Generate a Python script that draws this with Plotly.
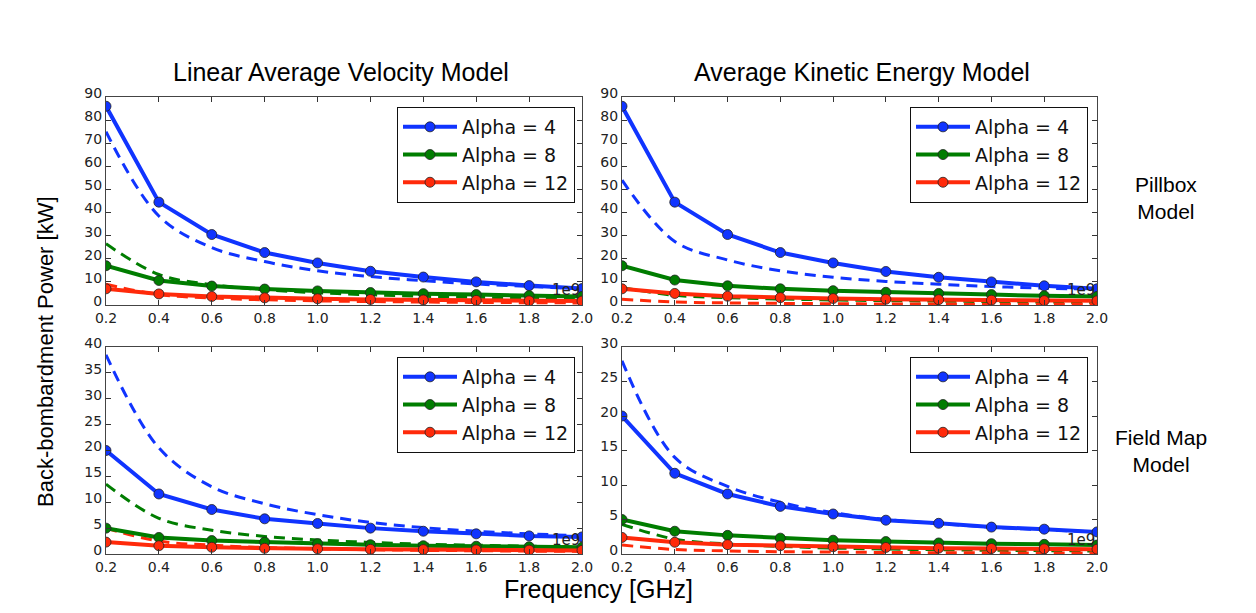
import plotly.graph_objects as go

# ---------------- data ----------------
freq_ghz = [0.2, 0.4, 0.6, 0.8, 1.0, 1.2, 1.4, 1.6, 1.8, 2.0]
x_tick_labels = ["0.2", "0.4", "0.6", "0.8", "1.0", "1.2", "1.4", "1.6", "1.8", "2.0"]
alpha_labels = ["Alpha = 4", "Alpha = 8", "Alpha = 12"]

# Linear Average Velocity Model, Pillbox
lav_pill_a4 = [86, 44.5, 30.5, 22.7, 18.2, 14.6, 12.1, 10.0, 8.4, 7.1]
lav_pill_a8 = [17, 10.6, 8.2, 6.9, 6.1, 5.4, 4.9, 4.5, 4.1, 3.7]
lav_pill_a12 = [7.0, 4.8, 3.7, 3.1, 2.7, 2.4, 2.2, 2.0, 1.8, 1.7]
lav_pill_a4_dash = [75, 38.5, 24.8, 18.8, 14.8, 12.3, 10.5, 9.1, 8.0, 7.1]
lav_pill_a8_dash = [26.5, 13.2, 8.8, 6.6, 5.3, 4.4, 3.8, 3.3, 2.9, 2.65]
lav_pill_a12_dash = [9.0, 4.5, 3.0, 2.25, 1.8, 1.5, 1.3, 1.1, 1.0, 0.9]

# Average Kinetic Energy Model, Pillbox
ake_pill_a4 = [86, 44.5, 30.5, 22.7, 18.2, 14.5, 12.0, 10.0, 8.3, 7.0]
ake_pill_a8 = [17, 10.8, 8.3, 7.0, 6.2, 5.5, 5.0, 4.5, 4.0, 3.7]
ake_pill_a12 = [7.0, 5.0, 3.8, 3.2, 2.8, 2.5, 2.3, 2.1, 1.9, 1.8]
ake_pill_a4_dash = [54, 27.5, 19.5, 14.8, 12.0, 10.2, 9.0, 8.0, 7.3, 6.8]
ake_pill_a8_dash = [7.5, 4.2, 3.2, 2.6, 2.2, 1.9, 1.7, 1.5, 1.3, 1.2]
ake_pill_a12_dash = [2.5, 1.3, 0.9, 0.7, 0.55, 0.45, 0.4, 0.35, 0.3, 0.28]

# Linear Average Velocity Model, Field Map
lav_fm_a4 = [20, 11.6, 8.6, 6.8, 5.9, 5.0, 4.4, 3.9, 3.5, 3.3]
lav_fm_a8 = [5.0, 3.2, 2.6, 2.3, 2.0, 1.8, 1.6, 1.5, 1.4, 1.3]
lav_fm_a12 = [2.3, 1.6, 1.3, 1.1, 1.0, 0.9, 0.85, 0.8, 0.75, 0.7]
lav_fm_a4_dash = [38.5, 20.5, 13.0, 9.7, 7.6, 6.1, 5.1, 4.4, 3.9, 3.5]
lav_fm_a8_dash = [13.5, 6.9, 4.6, 3.4, 2.7, 2.25, 1.9, 1.7, 1.5, 1.35]
lav_fm_a12_dash = [5.0, 2.5, 1.7, 1.25, 1.0, 0.83, 0.71, 0.63, 0.56, 0.5]

# Average Kinetic Energy Model, Field Map
ake_fm_a4 = [20, 11.7, 8.7, 6.9, 5.8, 4.9, 4.45, 3.9, 3.6, 3.2]
ake_fm_a8 = [5.0, 3.3, 2.7, 2.3, 2.0, 1.8, 1.6, 1.5, 1.4, 1.3]
ake_fm_a12 = [2.4, 1.7, 1.35, 1.2, 1.05, 0.95, 0.85, 0.8, 0.75, 0.7]
ake_fm_a4_dash = [28, 14, 9.8, 7.5, 6.0, 5.0, 4.4, 3.9, 3.5, 3.2]
ake_fm_a8_dash = [4.3, 2.15, 1.45, 1.1, 0.86, 0.72, 0.62, 0.54, 0.48, 0.43]
ake_fm_a12_dash = [1.3, 0.65, 0.45, 0.33, 0.27, 0.22, 0.19, 0.17, 0.15, 0.13]

y_ranges = [90, 90, 40, 30]
y_dticks = [10, 10, 5, 5]

# ---------------- styling ----------------
W, H = 1256, 613
colors = ["#1034ff", "#007d00", "#ff2a0a"]
tick_font = dict(family="DejaVu Sans", size=14, color="#222222")
title_font = "Liberation Sans, Arial, sans-serif"


def px_x(p):
    return p / W


def px_y(p):
    return 1 - p / H


x_domains = [[px_x(106), px_x(582)], [px_x(622), px_x(1097)],
             [px_x(106), px_x(582)], [px_x(622), px_x(1097)]]
y_domains = [[px_y(305), px_y(97)], [px_y(305), px_y(97)],
             [px_y(554), px_y(347)], [px_y(554), px_y(347)]]

panels = [
    ([lav_pill_a4, lav_pill_a8, lav_pill_a12], [lav_pill_a4_dash, lav_pill_a8_dash, lav_pill_a12_dash]),
    ([ake_pill_a4, ake_pill_a8, ake_pill_a12], [ake_pill_a4_dash, ake_pill_a8_dash, ake_pill_a12_dash]),
    ([lav_fm_a4, lav_fm_a8, lav_fm_a12], [lav_fm_a4_dash, lav_fm_a8_dash, lav_fm_a12_dash]),
    ([ake_fm_a4, ake_fm_a8, ake_fm_a12], [ake_fm_a4_dash, ake_fm_a8_dash, ake_fm_a12_dash]),
]

fig = go.Figure()
legend_names = ["legend", "legend2", "legend3", "legend4"]

for i, (solids, dashes) in enumerate(panels):
    xa = "x" if i == 0 else f"x{i+1}"
    ya = "y" if i == 0 else f"y{i+1}"
    for j in range(3):
        fig.add_trace(go.Scatter(
            x=freq_ghz, y=dashes[j], xaxis=xa, yaxis=ya, mode="lines",
            line=dict(color=colors[j], width=3, dash="11px,7px", shape="spline"),
            showlegend=False, hoverinfo="skip"))
    for j in range(3):
        fig.add_trace(go.Scatter(
            x=freq_ghz, y=solids[j], xaxis=xa, yaxis=ya, mode="lines+markers",
            name=alpha_labels[j], legend=legend_names[i],
            line=dict(color=colors[j], width=4),
            marker=dict(symbol="circle", size=10, color=colors[j],
                        line=dict(color="#222222", width=0.8))))

layout = dict(
    width=W, height=H, margin=dict(l=0, r=0, t=0, b=0),
    paper_bgcolor="white", plot_bgcolor="white",
    showlegend=True,
)

legend_pos = [(575, 107), (1088, 107), (575, 357), (1088, 357)]
for i, name in enumerate(legend_names):
    lx, ly = legend_pos[i]
    layout[name] = dict(
        x=px_x(lx), y=px_y(ly), xanchor="right", yanchor="top",
        bgcolor="white", bordercolor="#111111", borderwidth=1,
        font=dict(family="DejaVu Sans", size=19, color="#111111"),
        itemwidth=54, tracegroupgap=0)

for i in range(4):
    xk = "xaxis" if i == 0 else f"xaxis{i+1}"
    yk = "yaxis" if i == 0 else f"yaxis{i+1}"
    layout[xk] = dict(
        domain=x_domains[i], range=[0.2, 2.0], anchor="y" if i == 0 else f"y{i+1}",
        tickvals=freq_ghz, ticktext=x_tick_labels, ticks="inside", ticklen=5,
        tickcolor="#333333", showline=True, linecolor="#444444", linewidth=1,
        mirror="allticks", showgrid=False, zeroline=False, tickfont=tick_font,
        automargin=False)
    layout[yk] = dict(
        domain=y_domains[i], range=[0, y_ranges[i]], anchor="x" if i == 0 else f"x{i+1}",
        dtick=y_dticks[i], tick0=0, ticks="inside", ticklen=5,
        tickcolor="#333333", showline=True, linecolor="#444444", linewidth=1,
        mirror="allticks", showgrid=False, zeroline=False, tickfont=tick_font,
        ticklabelshift=-4, automargin=False)

fig.update_layout(**layout)

annotations = []
# offset labels
for i in range(4):
    xa = "x" if i == 0 else f"x{i+1}"
    ya = "y" if i == 0 else f"y{i+1}"
    annotations.append(dict(
        text="1e9", xref=f"{xa} domain", yref=f"{ya} domain", x=1.0, y=0.07,
        xanchor="right", yanchor="middle", showarrow=False,
        font=dict(family="DejaVu Sans", size=15, color="#222222")))

annotations += [
    dict(text="Linear Average Velocity Model", xref="paper", yref="paper",
         x=px_x(341), y=px_y(72), xanchor="center", yanchor="middle", showarrow=False,
         font=dict(family=title_font, size=25, color="black")),
    dict(text="Average Kinetic Energy Model", xref="paper", yref="paper",
         x=px_x(862), y=px_y(72), xanchor="center", yanchor="middle", showarrow=False,
         font=dict(family=title_font, size=25, color="black")),
    dict(text="Pillbox<br>Model", xref="paper", yref="paper",
         x=px_x(1166), y=px_y(198), xanchor="center", yanchor="middle", showarrow=False,
         font=dict(family=title_font, size=21, color="black")),
    dict(text="Field Map<br>Model", xref="paper", yref="paper",
         x=px_x(1161), y=px_y(451), xanchor="center", yanchor="middle", showarrow=False,
         font=dict(family=title_font, size=21, color="black")),
    dict(text="Back-bombardment Power [kW]", xref="paper", yref="paper",
         x=px_x(46), y=px_y(352), xanchor="center", yanchor="middle", showarrow=False,
         textangle=-90, font=dict(family=title_font, size=22, color="black")),
    dict(text="Frequency [GHz]", xref="paper", yref="paper",
         x=px_x(598), y=px_y(589), xanchor="center", yanchor="middle", showarrow=False,
         font=dict(family=title_font, size=25, color="black")),
]
fig.update_layout(annotations=annotations)

fig.write_html("out.html")
